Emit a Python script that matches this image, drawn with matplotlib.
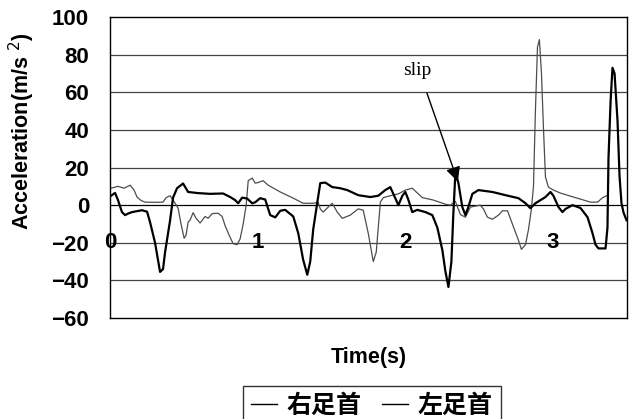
import matplotlib.pyplot as plt

plt.rcParams['font.family'] = ['Liberation Sans', 'DejaVu Sans']

# right ankle (thick line)
t_right = [0.007, 0.034, 0.054, 0.081, 0.102, 0.122, 0.149, 0.217, 0.251, 0.271,
           0.305, 0.339, 0.359, 0.373, 0.407, 0.427, 0.454, 0.495, 0.529, 0.597,
           0.678, 0.766, 0.814, 0.847, 0.868, 0.895, 0.929, 0.963, 0.983, 1.017,
           1.051, 1.085, 1.119, 1.153, 1.186, 1.241, 1.275, 1.308, 1.336, 1.356,
           1.376, 1.403, 1.424, 1.458, 1.505, 1.559, 1.607, 1.681, 1.763, 1.817,
           1.864, 1.898, 1.932, 1.953, 1.980, 2.000, 2.020, 2.047, 2.081, 2.136,
           2.183, 2.217, 2.251, 2.271, 2.292, 2.312, 2.325, 2.339, 2.359, 2.386,
           2.407, 2.427, 2.454, 2.495, 2.590, 2.678, 2.766, 2.814, 2.847, 2.881,
           2.949, 2.983, 3.003, 3.037, 3.064, 3.085, 3.132, 3.186, 3.234, 3.268,
           3.288, 3.308, 3.356, 3.369, 3.376, 3.390, 3.403, 3.417, 3.437, 3.451,
           3.464, 3.478, 3.498]
a_right = [5, 6.5, 2.7, -3.7, -5.3, -4.5, -3.7, -2.7, -3.5, -9,
           -20, -35.5, -34, -25, -8, 4, 9, 11.5, 7, 6.4,
           6, 6.2, 4.3, 2.7, 1, 4, 3.5, 1, 1.5, 3.7,
           3, -5.3, -6.5, -3, -2.5, -6, -15, -29, -37, -30,
           -13, 1, 11.7, 12, 9.6, 9, 8, 5.3, 4.3, 5,
           8, 9.6, 3.7, 0, 5, 7, 3, -3.7, -2.5, -3.7,
           -5.3, -12, -24, -35, -43.5, -30, -5, 17, 12, -1,
           -5.3, -1, 6, 8, 7, 5.3, 3.7, 1, -1.6, 1,
           4.3, 7, 5, -1, -3.7, -2, 0, -1.5, -6.4, -15,
           -21, -23, -23, -12, 25, 55, 73, 70, 45, 15,
           1, -4, -8]

# left ankle (thin line)
t_left = [0.007, 0.054, 0.095, 0.136, 0.163, 0.183, 0.210, 0.237, 0.305, 0.359,
          0.380, 0.407, 0.441, 0.461, 0.481, 0.502, 0.515, 0.529, 0.542, 0.563,
          0.583, 0.610, 0.644, 0.664, 0.692, 0.732, 0.759, 0.780, 0.807, 0.834,
          0.861, 0.881, 0.902, 0.922, 0.936, 0.963, 0.983, 1.003, 1.037, 1.071,
          1.153, 1.241, 1.308, 1.376, 1.410, 1.424, 1.444, 1.478, 1.505, 1.539,
          1.573, 1.627, 1.681, 1.715, 1.749, 1.783, 1.803, 1.831, 1.851, 1.898,
          1.953, 2.000, 2.047, 2.115, 2.190, 2.271, 2.305, 2.339, 2.373, 2.407,
          2.441, 2.475, 2.508, 2.529, 2.556, 2.590, 2.631, 2.658, 2.692, 2.725,
          2.766, 2.786, 2.814, 2.834, 2.854, 2.868, 2.881, 2.895, 2.908, 2.922,
          2.936, 2.949, 2.969, 3.003, 3.051, 3.139, 3.254, 3.302, 3.336, 3.363]
a_left = [9, 10, 9, 10.6, 8, 4.3, 2.5, 1.6, 1.5, 1.6,
          4, 5, 1, -1.6, -10, -17.6, -16, -9, -8, -4,
          -7, -9.5, -6, -7, -4.5, -4.3, -6, -11, -16, -20.5,
          -21, -18, -10, 0, 13, 14.4, 11.7, 12, 13, 10.6,
          7, 3.7, 1, 1, 1.5, -2, -3.7, -1, 1, -3.7,
          -7, -5.3, -2, -2.7, -15, -30, -25, 1.6, 4, 5,
          6, 8, 9, 4, 2.7, 0.5, 0, 2, -5, -6.4,
          -1, -0.5, 0, -2, -6.4, -7.5, -5.3, -3, -3, -10,
          -18.6, -23.5, -21, -13, -2, 10, 50, 84, 88, 70,
          40, 15, 9.6, 8, 6.4, 4.3, 1.6, 1.6, 4, 5]

series_names = ['右足首', '左足首']
y_ticks = [-60, -40, -20, 0, 20, 40, 60, 80, 100]
x_ticks = [0, 1, 2, 3]

fig = plt.figure(figsize=(6.37, 4.19), dpi=100)
ax = fig.add_axes([0.1727, 0.241, 0.8113, 0.7184])

for yv in y_ticks[1:-1]:
    ax.axhline(yv, color='black' if yv == 0 else '#444444', lw=0.9, zorder=1)

ax.plot(t_right, a_right, color='black', lw=1.6, label=series_names[0], zorder=3)
ax.plot(t_left, a_left, color='#4d4d4d', lw=0.9, label=series_names[1], zorder=2)

ax.set_xlim(0, 3.5)
ax.set_ylim(-60, 100)
ax.set_yticks(y_ticks)
ax.set_xticks([])
ax.tick_params(axis='y', length=0, pad=15, labelsize=16)
for lab in ax.get_yticklabels():
    lab.set_fontweight('bold')
for sp in ax.spines.values():
    sp.set_linewidth(1.0)

# time labels sit on the -20 line
for xv in x_ticks:
    ax.text(xv, -20, str(xv), ha='center', va='center', fontsize=16,
            fontweight='bold', zorder=4)

ax.annotate('', xy=(2.356, 12.5), xytext=(2.146, 59.6),
            arrowprops=dict(arrowstyle='-|>', color='black', lw=1.0,
                            mutation_scale=22, shrinkA=0, shrinkB=0))
ax.text(2.08, 71.5, 'slip', ha='center', va='center', fontsize=14,
        family='Liberation Serif')

fig.text(22 / 637, 1 - 131 / 419, 'Acceleration(m/s $^{2}$)', rotation=90,
         ha='center', va='center', fontsize=15.5, fontweight='bold')
fig.text(369 / 637, 1 - 357 / 419, 'Time(s)', ha='center', va='center',
         fontsize=15.5, fontweight='bold')

handles, labels = ax.get_legend_handles_labels()
leg = fig.legend(handles, labels, loc='upper left',
                 bbox_to_anchor=(243 / 637, 1 - 386 / 419), ncol=2,
                 prop={'family': ['Noto Sans CJK JP', 'DejaVu Sans'],
                       'size': 18, 'weight': 'bold'},
                 frameon=True, fancybox=False, edgecolor='black',
                 handlelength=1.05, handletextpad=0.4, columnspacing=0.8,
                 borderpad=0.3, borderaxespad=0)
leg.get_frame().set_linewidth(1.0)
for h in leg.legend_handles:
    h.set_color('black')
    h.set_linewidth(1.0)

fig.savefig('out.png', dpi=100)
